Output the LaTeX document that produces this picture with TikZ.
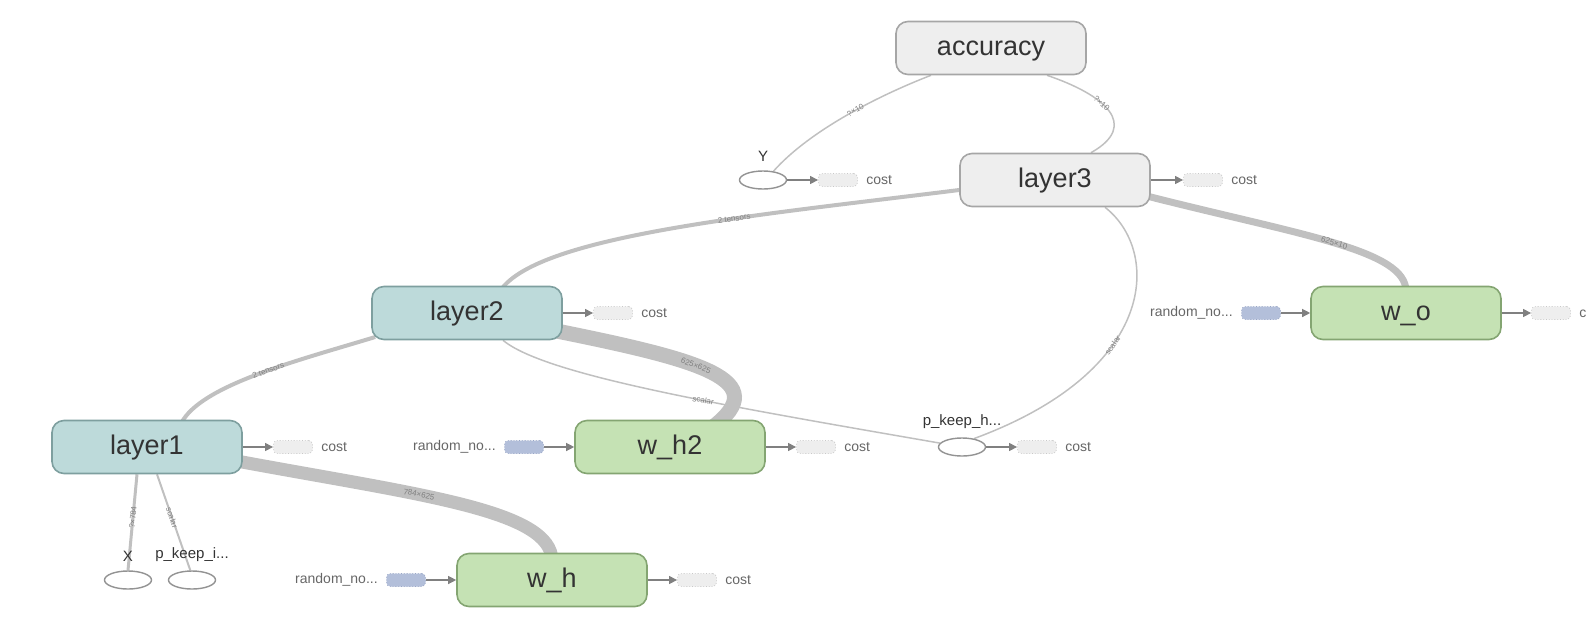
\documentclass[tikz,border=0pt]{standalone}
\usepackage{fontspec}
\setmainfont{Liberation Sans}
\usetikzlibrary{positioning,arrows.meta,shapes.geometric,backgrounds}
\definecolor{opfill}{HTML}{EEEEEE}
\definecolor{opline}{HTML}{A6A6A6}
\definecolor{layerfill}{HTML}{BDDADA}
\definecolor{layerline}{HTML}{7E9F9F}
\definecolor{varfill}{HTML}{C5E2B4}
\definecolor{varline}{HTML}{84A572}
\definecolor{flowgray}{HTML}{C0C0C0}
\definecolor{randfill}{HTML}{B3BFDA}
\definecolor{randline}{HTML}{98A6C6}
\definecolor{txtgray}{HTML}{333333}
\definecolor{lightline}{HTML}{C8C8C8}

\begin{document}
\begin{tikzpicture}[x=0.5pt, y=-0.5pt,
  opnode/.style={draw=opline, fill=opfill, rounded corners=6pt, minimum width=95pt, minimum height=26.5pt, line width=0.8pt, text=txtgray, font=\fontsize{13.5}{16}\selectfont, text height=9pt, text depth=1.5pt},
  layernode/.style={opnode, draw=layerline, fill=layerfill},
  varnode/.style={opnode, draw=varline, fill=varfill},
  phnode/.style={ellipse, draw=gray!85, fill=white, minimum width=23.5pt, minimum height=9pt, inner sep=0pt, line width=0.7pt},
  phlab/.style={font=\fontsize{7.5}{8}\selectfont, text=txtgray, inner sep=0pt},
  stub/.style={draw=lightline, densely dotted, fill=opfill, rounded corners=2pt, minimum width=19.5pt, minimum height=6.5pt, inner sep=0pt},
  randstub/.style={stub, draw=randline, fill=randfill},
  smalltxt/.style={font=\fontsize{7}{8}\selectfont, text=txtgray!75, inner sep=0pt},
  feed/.style={draw=gray, line width=0.6pt, -{Triangle[length=4pt,width=4pt]}},
  flow/.style={draw=flowgray},
  elab/.style={sloped, font=\fontsize{4}{4}\selectfont, text=gray, inner sep=0pt}
]

\useasboundingbox (0,0) rectangle (1586,617);

% ops
\node[opnode] (accuracy) at (991,48) {accuracy};
\node[opnode] (layer3) at (1055,180) {layer3};
\node[layernode] (layer2) at (467,313) {layer2};
\node[layernode] (layer1) at (147,447) {layer1};

% variables
\node[varnode] (wo) at (1406,313) {w\_o};
\node[varnode] (wh2) at (670,447) {w\_h2};
\node[varnode] (wh) at (552,580) {w\_h};

% placeholders
\node[phnode] (Y) at (763,180) {};
\node[phlab, above=4pt of Y] (ylab) {Y};
\node[phnode] (pkeeph) at (962,447) {};
\node[phlab, above=4pt of pkeeph] (pkeephlab) {p\_keep\_h...};
\node[phnode] (X) at (128,580) {};
\node[phlab, above=4pt of X] (xlab) {X};
\node[phnode] (pkeepi) at (192,580) {};
\node[phlab, above=4pt of pkeepi] (pkeepilab) {p\_keep\_i...};

% cost stubs
\node[stub] (ycost) at (838,180) {};
\node[stub] (l3cost) at (1203,180) {};
\node[stub] (l2cost) at (613,313) {};
\node[stub] (l1cost) at (293,447) {};
\node[stub] (wh2cost) at (816,447) {};
\node[stub] (pkhcost) at (1037,447) {};
\node[stub] (whcost) at (697,580) {};
\node[stub] (wocost) at (1551,313) {};
\foreach \s in {ycost,l3cost,l2cost,l1cost,wh2cost,pkhcost,whcost,wocost}
  \node[smalltxt, right=4pt of \s] (\s txt) {cost};

\draw[feed] (Y) -- (ycost);
\draw[feed] (layer3) -- (l3cost);
\draw[feed] (layer2) -- (l2cost);
\draw[feed] (layer1) -- (l1cost);
\draw[feed] (wh2) -- (wh2cost);
\draw[feed] (pkeeph) -- (pkhcost);
\draw[feed] (wh) -- (whcost);
\draw[feed] (wo) -- (wocost);

% random inits
\node[randstub] (worand) at (1261,313) {};
\node[randstub] (wh2rand) at (524,447) {};
\node[randstub] (whrand) at (406,580) {};
\foreach \s in {worand,wh2rand,whrand}
  \node[smalltxt, left=4pt of \s] (\s txt) {random\_no...};

\draw[feed] (worand) -- (wo);
\draw[feed] (wh2rand) -- (wh2);
\draw[feed] (whrand) -- (wh);

% data flow, under the nodes
\begin{pgfonlayer}{background}
\draw[flow, line width=0.75pt] ([xshift=-30pt]accuracy.south) .. controls (880,95) and (810,130) .. (Y.40) node[elab, pos=0.45] {?×10};
\draw[flow, line width=0.75pt] ([xshift=28pt]accuracy.south) .. controls (1105,95) and (1140,125) .. ([xshift=18pt]layer3.north) node[elab, pos=0.4] {?×10};
\draw[flow, line width=2pt] ([yshift=-5pt]layer3.west) .. controls (760,215) and (540,235) .. ([xshift=17pt,yshift=-2pt]layer2.north) node[elab, pos=0.38] {2 tensors};
\draw[flow, line width=3.5pt] ([xshift=-2pt,yshift=-8pt]layer3.east) .. controls (1300,235) and (1407,250) .. ([yshift=-3pt]wo.north) node[elab, pos=0.5] {625×10};
\draw[flow, line width=0.75pt] ([xshift=25pt]layer3.south) .. controls (1160,250) and (1160,370) .. (pkeeph.35) node[elab, pos=0.62] {scalar};
\draw[flow, line width=7.5pt] ([xshift=-3pt,yshift=-9pt]layer2.east) .. controls (700,360) and (775,380) .. ([xshift=21pt,yshift=-4pt]wh2.north) node[elab, pos=0.42] {625×625};
\draw[flow, line width=0.75pt] ([xshift=18pt]layer2.south) .. controls (545,375) and (720,405) .. (pkeeph.170) node[elab, pos=0.6] {scalar};
\draw[flow, line width=2pt] ([xshift=2pt,yshift=-12pt]layer2.west) .. controls (300,360) and (200,385) .. ([xshift=17pt,yshift=-2pt]layer1.north) node[elab, pos=0.45] {2 tensors};
\draw[flow, line width=6.5pt] ([xshift=-3pt,yshift=-7pt]layer1.east) .. controls (420,495) and (552,510) .. ([yshift=-4pt]wh.north) node[elab, pos=0.38] {784×625};
\draw[flow, line width=1.5pt] ([xshift=-5pt]layer1.south) -- (X.north) node[elab, pos=0.45] {?×784};
\draw[flow, line width=1pt] ([xshift=5pt]layer1.south) -- (pkeepi.100) node[elab, pos=0.45] {scalar};
\end{pgfonlayer}

\end{tikzpicture}
\end{document}
